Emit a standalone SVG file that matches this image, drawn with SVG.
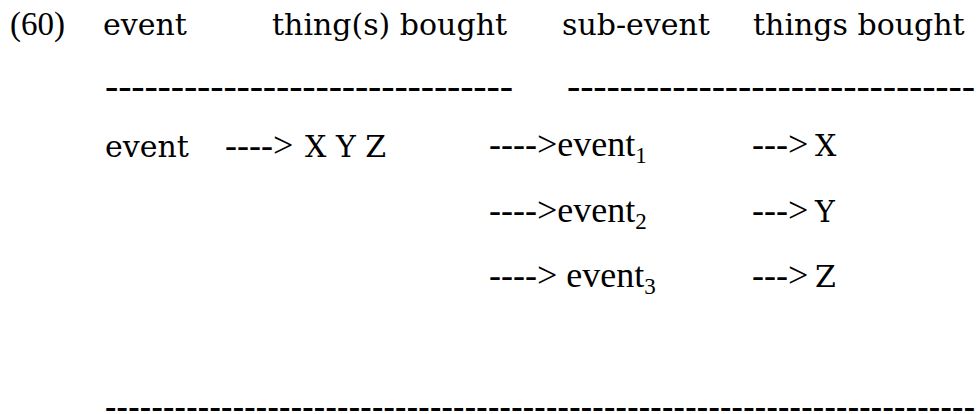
<svg xmlns="http://www.w3.org/2000/svg" width="977" height="414" viewBox="0 0 977 414">
<style>
.c{font-family:"DejaVu Serif","Liberation Serif",serif;font-size:30px;fill:#000}
.t{font-family:"Liberation Serif","Times New Roman",serif;font-size:36px;fill:#000}
.n{font-family:"Liberation Serif","Times New Roman",serif;font-size:33px;fill:#000}
.s{font-size:23px}
.d{font-family:"Liberation Serif","Times New Roman",serif;font-size:40px;fill:#000}
.b{font-family:"Liberation Serif","Times New Roman",serif;font-size:34px;font-weight:bold;fill:#000}
</style>
<rect width="977" height="414" fill="#fff"/>
<g id="header">
<text class="n" x="10" y="35">(60)</text>
<text class="c" x="103" y="35">event</text>
<text class="c" x="272" y="35">thing(s) bought</text>
<text class="c" x="562" y="35">sub-event</text>
<text class="c" x="753" y="35">things bought</text>
</g>
<g id="rules">
<text class="d" x="105" y="99" textLength="408" lengthAdjust="spacing">-------------------------------</text>
<text class="d" x="567" y="99" textLength="408" lengthAdjust="spacing">-------------------------------</text>
<text class="b" x="105" y="418" textLength="870" lengthAdjust="spacing">---------------------------------------------------------------------------</text>
</g>
<g id="event">
<text class="c" x="105" y="157">event</text>
<text class="t" x="225" y="157">----&gt;</text>
<text class="c" x="305" y="157">X Y Z</text>
</g>
<g id="subevent1">
<text class="t" x="489" y="156">----&gt;event<tspan class="s" dy="7">1</tspan></text>
<text class="t" x="752" y="156">---&gt;</text>
<text class="c" x="815" y="156">X</text>
</g>
<g id="subevent2">
<text class="t" x="489" y="222">----&gt;event<tspan class="s" dy="7">2</tspan></text>
<text class="t" x="752" y="222">---&gt;</text>
<text class="c" x="815" y="222">Y</text>
</g>
<g id="subevent3">
<text class="t" x="489" y="287">----&gt; event<tspan class="s" dy="7">3</tspan></text>
<text class="t" x="752" y="287">---&gt;</text>
<text class="c" x="815" y="287">Z</text>
</g>
</svg>
